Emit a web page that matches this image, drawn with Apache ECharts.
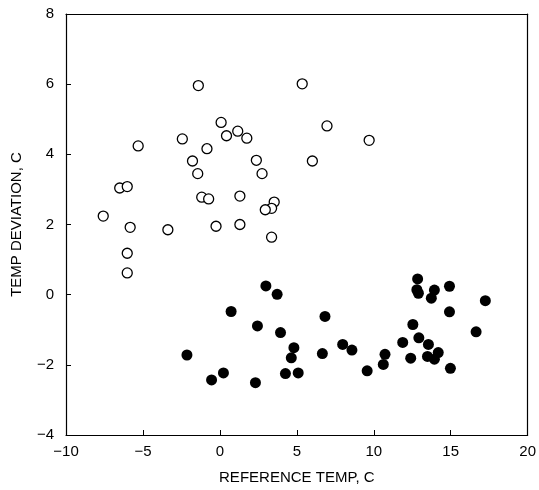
<!DOCTYPE html>
<html>
<head>
<meta charset="utf-8">
<script src="https://cdn.jsdelivr.net/npm/echarts@6/dist/echarts.min.js"></script>
<style>
  html, body { margin: 0; padding: 0; background: #fff; }
  #chart { width: 539px; height: 490px; }
</style>
</head>
<body>
<div id="chart"></div>
<script>
// Open circles: reference temperature (C) and temperature deviation (C)
const openX = [-1.4, 0.08, 0.43, 1.16, 1.75, 5.35, 6.96, 9.70, 2.37, 6.01, 2.74, 1.30, 3.53, 3.36, 2.95, 1.30, 3.36, -0.25,
  -5.31, -2.44, -0.84, -1.78, -1.44, -1.18, -0.73, -6.51, -6.02, -7.58, -5.83, -3.38, -6.02, -6.02];
const openY = [5.96, 4.91, 4.53, 4.66, 4.46, 6.01, 4.81, 4.40, 3.83, 3.81, 3.45, 2.81, 2.64, 2.46, 2.42, 2.00, 1.64, 1.95,
  4.24, 4.44, 4.16, 3.81, 3.45, 2.78, 2.73, 3.04, 3.08, 2.24, 1.92, 1.85, 1.18, 0.62];

// Filled circles
const filledX = [2.99, 3.72, 0.73, 6.83, 2.44, 3.94, 7.98, 4.81, 6.66, 4.64, -2.14, 0.23, -0.54, 2.31, 4.26, 5.09,
  12.85, 12.80, 12.90, 13.94, 13.74, 14.92, 17.25, 14.92, 16.65, 12.54, 12.93, 11.88, 13.55, 8.58, 10.73, 10.62,
  9.57, 12.40, 13.49, 13.94, 14.19, 14.98];
const filledY = [0.25, 0.01, -0.48, -0.62, -0.89, -1.08, -1.42, -1.51, -1.68, -1.80, -1.72, -2.23, -2.43, -2.51, -2.25, -2.23,
  0.45, 0.14, 0.04, 0.13, -0.10, 0.24, -0.17, -0.49, -1.06, -0.85, -1.23, -1.36, -1.42, -1.58, -1.70, -1.99,
  -2.17, -1.81, -1.76, -1.84, -1.65, -2.10];

const xTicks = [-10, -5, 0, 5, 10, 15, 20];
const yTicks = [-4, -2, 0, 2, 4, 6, 8];

const pairs = (xs, ys) => xs.map((x, i) => [x, ys[i]]);
// typographic minus for negative tick labels
const fmt = v => (v < 0 ? '\u2212' + Math.abs(v) : String(v));

const font = 'Liberation Sans, Arial, sans-serif';
const tickText = { color: '#000', fontFamily: font, fontSize: 15 };
const titleText = { color: '#000', fontFamily: font, fontSize: 15 };

const chart = echarts.init(document.getElementById('chart'));
chart.setOption({
  animation: false,
  backgroundColor: '#fff',
  grid: { left: 66, right: 6, top: 14, bottom: 49, containLabel: false },
  xAxis: [{
    type: 'value',
    min: xTicks[0], max: xTicks[xTicks.length - 1], interval: 5,
    axisLine: { show: true, onZero: false, lineStyle: { color: '#000', width: 1.2 } },
    axisTick: { show: true, inside: true, length: 5, lineStyle: { color: '#000' } },
    axisLabel: Object.assign({ margin: 9, formatter: fmt }, tickText),
    splitLine: { show: false },
    name: 'REFERENCE TEMP, C',
    nameLocation: 'middle',
    nameGap: 35,
    nameTextStyle: titleText
  }, {
    type: 'value', position: 'top',
    min: xTicks[0], max: xTicks[xTicks.length - 1],
    axisLine: { show: true, onZero: false, lineStyle: { color: '#000', width: 1.2 } },
    axisTick: { show: false }, axisLabel: { show: false }, splitLine: { show: false }
  }],
  yAxis: [{
    type: 'value',
    min: yTicks[0], max: yTicks[yTicks.length - 1], interval: 2,
    axisLine: { show: true, onZero: false, lineStyle: { color: '#000', width: 1.2 } },
    axisTick: { show: true, inside: true, length: 5, lineStyle: { color: '#000' } },
    axisLabel: Object.assign({ margin: 12, formatter: fmt }, tickText),
    splitLine: { show: false },
    name: 'TEMP DEVIATION, C',
    nameLocation: 'middle',
    nameGap: 42,
    nameRotate: 90,
    nameTextStyle: titleText
  }, {
    type: 'value', position: 'right',
    min: yTicks[0], max: yTicks[yTicks.length - 1],
    axisLine: { show: true, onZero: false, lineStyle: { color: '#000', width: 1.2 } },
    axisTick: { show: false }, axisLabel: { show: false }, splitLine: { show: false }
  }],
  series: [{
    type: 'scatter',
    data: pairs(openX, openY),
    symbol: 'circle',
    symbolSize: 10,
    itemStyle: { color: '#fff', borderColor: '#000', borderWidth: 1.3, opacity: 1 }
  }, {
    type: 'scatter',
    data: pairs(filledX, filledY),
    symbol: 'circle',
    symbolSize: 11,
    itemStyle: { color: '#000', opacity: 1 }
  }]
});
</script>
</body>
</html>
